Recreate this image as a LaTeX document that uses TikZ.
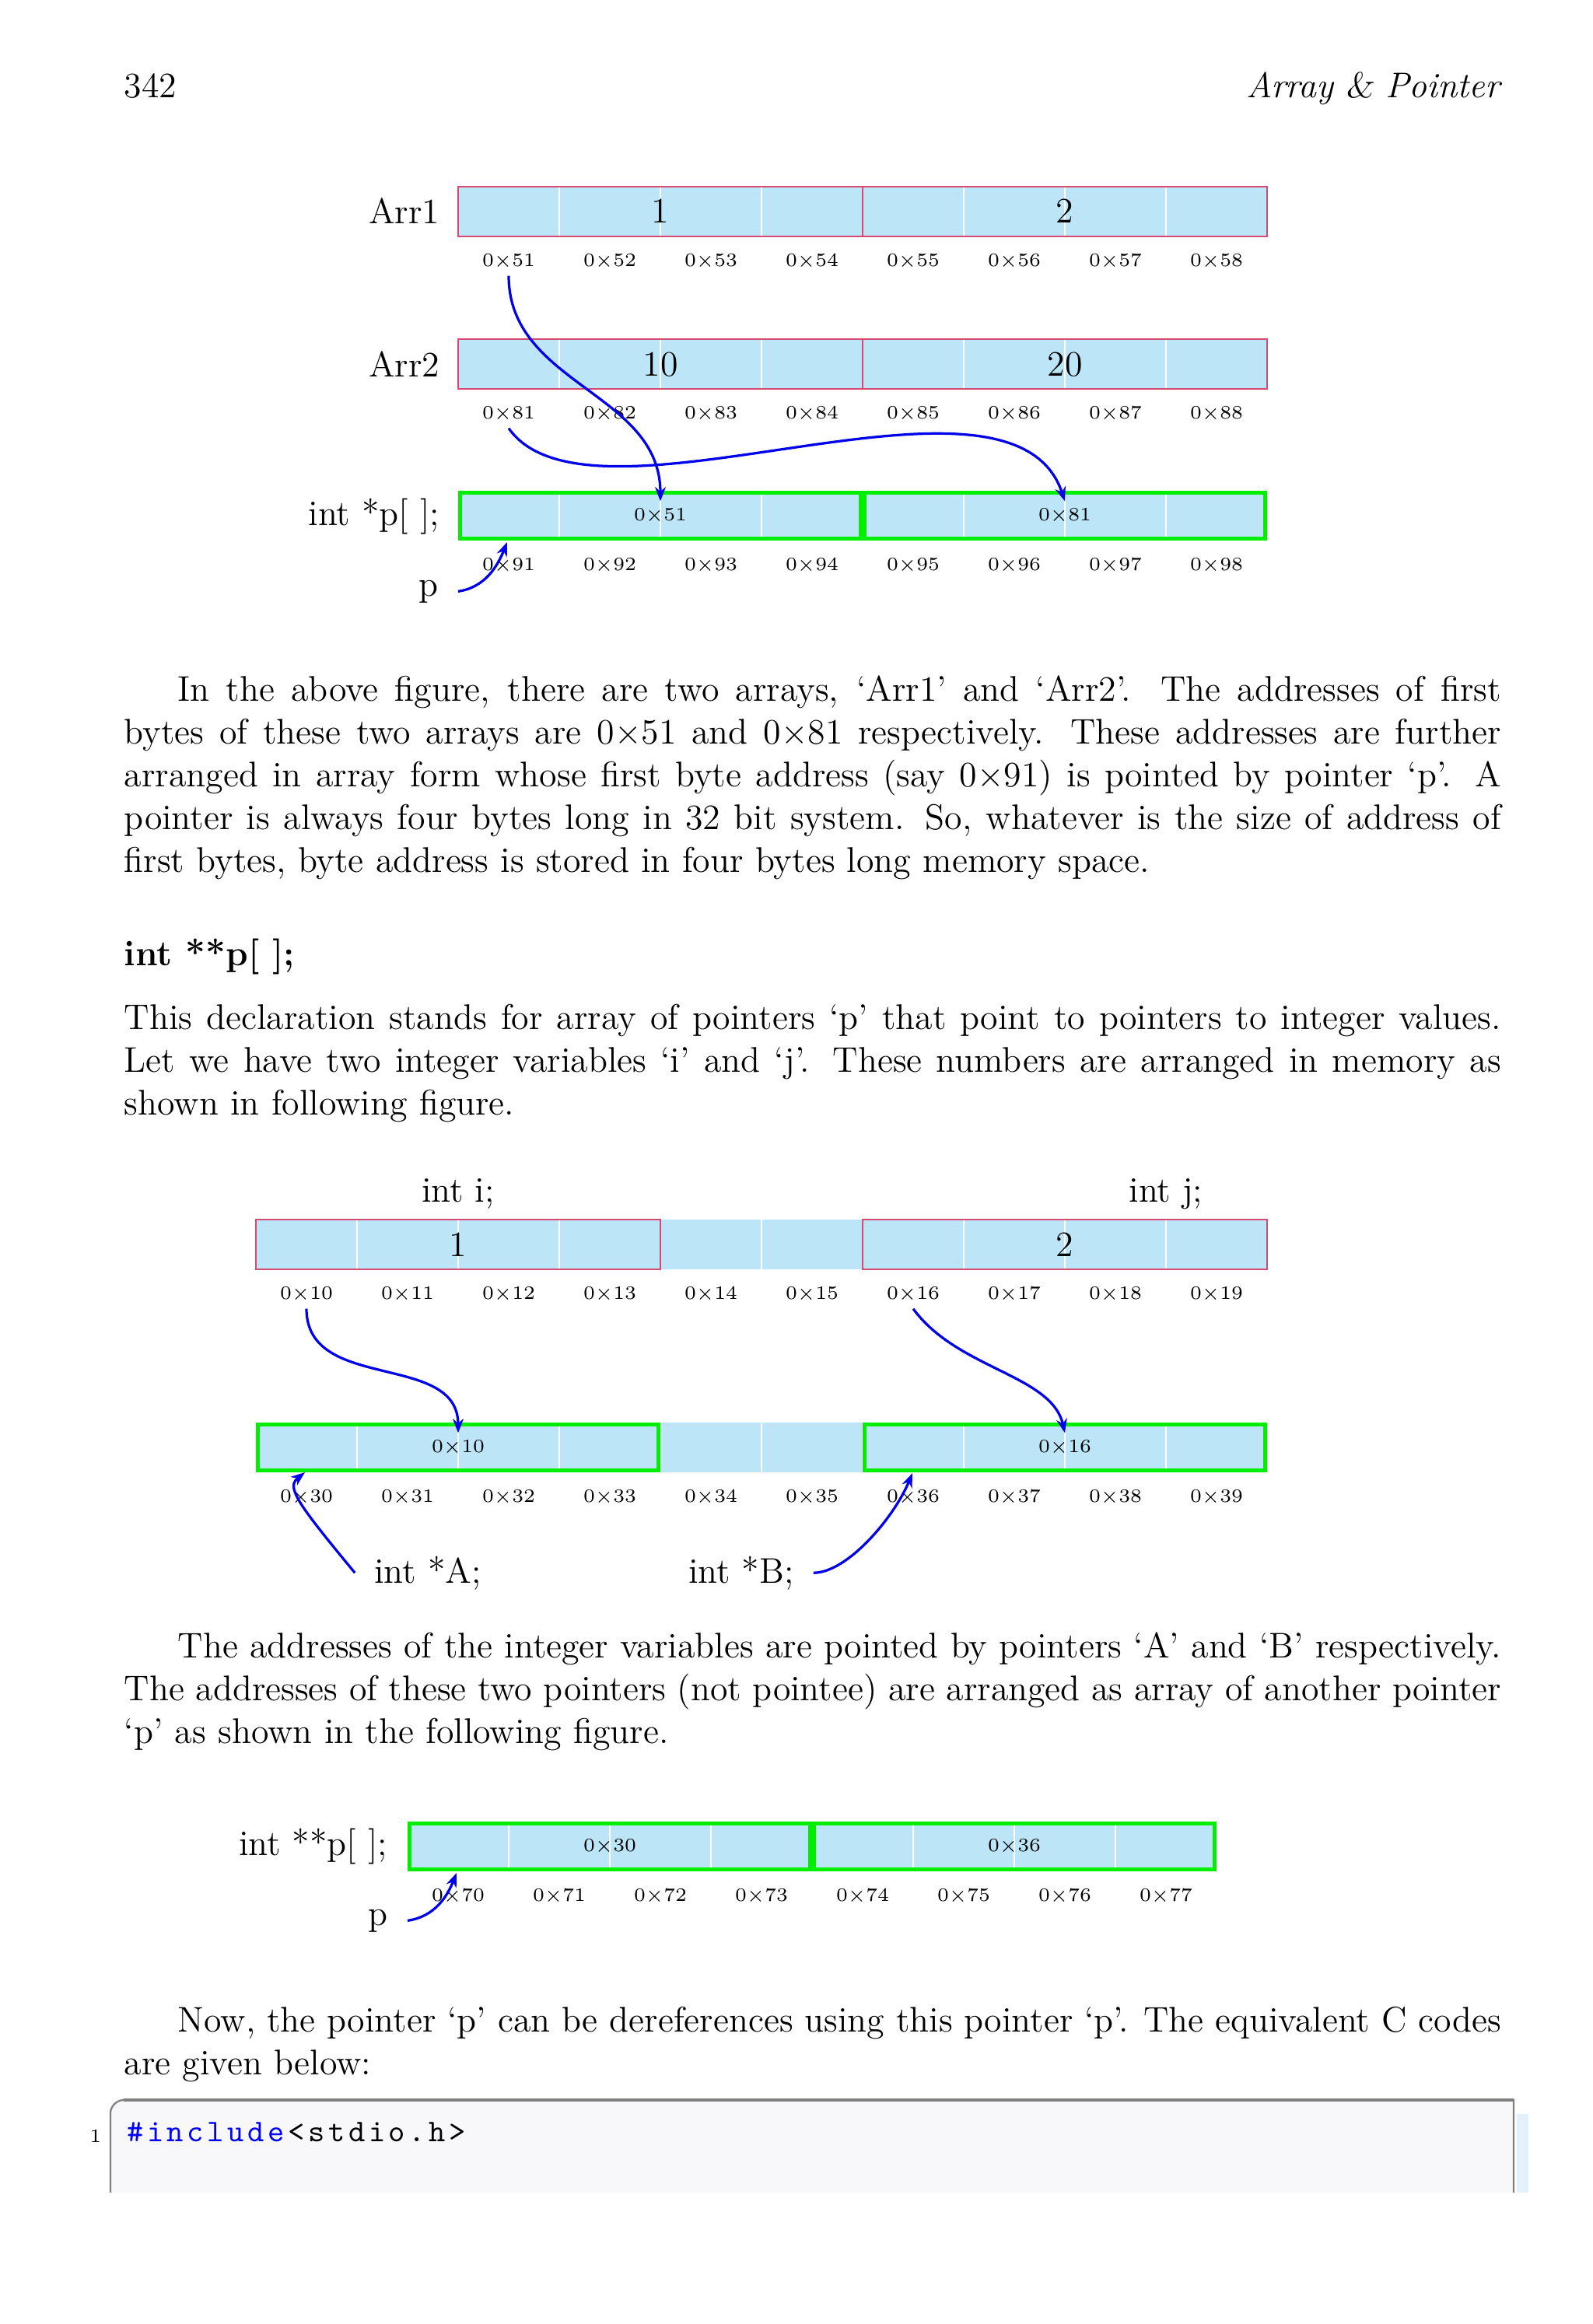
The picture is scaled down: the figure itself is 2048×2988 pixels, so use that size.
\documentclass[tikz,border=0pt]{standalone}
\usepackage{fontspec}
\usetikzlibrary{arrows.meta}
\definecolor{cellblue}{RGB}{188,229,248}
\definecolor{grpred}{RGB}{214,72,112}
\definecolor{grpgreen}{RGB}{0,238,0}
\definecolor{arrblue}{RGB}{0,0,235}
\definecolor{codebg}{RGB}{248,248,250}
\definecolor{codeframe}{RGB}{128,128,128}
\definecolor{stripblue}{RGB}{226,241,251}
\definecolor{kwblue}{RGB}{0,0,255}
\newcommand\bodysize{\fontsize{11.33}{13.6}\selectfont}
\newcommand\addrsize{\fontsize{6}{7}\selectfont}
\newcommand\jline[1]{\makebox[437.2pt][s]{\spaceskip=0pt\xspaceskip=0pt #1}}
\newcommand\cc[1]{\makebox[6.4pt]{#1}}
\newcommand\memrow[3]{%
  \fill[cellblue] (#1,#2) rectangle ++({130*#3},64);
  \pgfmathtruncatemacro\lastk{#3-1}%
  \foreach \k in {1,...,\lastk}{\draw[cellsep] ({#1+130*\k},#2) -- ++(0,64);}%
}
\tikzset{
  txt/.style={inner sep=0pt, font=\bodysize},
  para/.style={txt, anchor=base west, align=left, text width=437.2pt},
  cellsep/.style={draw=white, line width=0.7pt},
  redbox/.style={draw=grpred, line width=0.4pt},
  greenbox/.style={draw=grpgreen, line width=1.2pt},
  addrlbl/.style={font=\addrsize, inner sep=2pt},
  cellval/.style={txt, anchor=base},
  smallval/.style={font=\addrsize, inner sep=2pt},
  lbl/.style={font=\bodysize, inner xsep=6pt, inner ysep=0pt},
  ptrarrow/.style={draw=arrblue, line width=0.8pt, -{Stealth[length=4.5pt,width=3.4pt]}},
}
\begin{document}
\begin{tikzpicture}[x=0.247pt,y=-0.247pt]
\useasboundingbox (0,0) rectangle (2048,2988);
\fill[white] (0,0) rectangle (2048,2988);

% running head
\node[txt, anchor=base west] (pgno) at (159,126) {342};
\node[txt, anchor=base east] (runhead) at (1929,126) {\itshape Array \textsl{\&} Pointer};

% ---------- Figure 1 ----------
\memrow{589}{240}{8}
\memrow{589}{436}{8}
\memrow{589}{631}{8}
\draw[redbox] (589,240) rectangle ++(520,64);
\draw[redbox] (1109,240) rectangle ++(520,64);
\draw[redbox] (589,436) rectangle ++(520,64);
\draw[redbox] (1109,436) rectangle ++(520,64);
\draw[greenbox] (591.5,633.5) rectangle ++(515,59);
\draw[greenbox] (1111.5,633.5) rectangle ++(515,59);

\node[txt, anchor=base east] (lArr1) at (566,288) {Arr1};
\node[txt, anchor=base east] (lArr2) at (566,484) {Arr2};
\node[txt, anchor=base east] (lptr1) at (566,675) {int *p[ ];};
\node[lbl, anchor=base east] (lp1) at (589,766) {p};

\node[cellval] (v1) at (849,287) {1};
\node[cellval] (v2) at (1369,287) {2};
\node[cellval] (v10v) at (849,483) {10};
\node[cellval] (v20v) at (1369,483) {20};
\node[smallval] (v51) at (849,663) {0$\times$51};
\node[smallval] (v81) at (1369,663) {0$\times$81};

\foreach \i in {1,...,8}{\node[addrlbl] (a5\i) at ({654+130*(\i-1)},336) {0$\times$5\i};}
\foreach \i in {1,...,8}{\node[addrlbl] (a8\i) at ({654+130*(\i-1)},532) {0$\times$8\i};}
\foreach \i in {1,...,8}{\node[addrlbl] (a9\i) at ({654+130*(\i-1)},727) {0$\times$9\i};}

\coordinate (t91) at (652,697);
\draw[ptrarrow] (a51.south) .. controls +(0,140) and +(0,-140) .. (v51.north);
\draw[ptrarrow] (a81.south) .. controls +(106,151) and +(-69,-208) .. (v81.north);
\draw[ptrarrow] (lp1.east) .. controls +(35,-5) and +(-12,30) .. (t91);

% ---------- paragraph 1 ----------
\node[para] (par1) at (159,901) {%
\jline{\hspace*{17pt}In the above figure, there are two arrays, `Arr1' and `Arr2'. The addresses of first}\\
\jline{bytes of these two arrays are 0$\times$51 and 0$\times$81 respectively. These addresses are further}\\
\jline{arranged in array form whose first byte address (say 0$\times$91) is pointed by pointer `p'. A}\\
\jline{pointer is always four bytes long in 32 bit system. So, whatever is the size of address of}\\
first bytes, byte address is stored in four bytes long memory space.};

\node[txt, anchor=base west] (head) at (159,1241) {\bfseries int **p[ ];};

\node[para] (par2) at (159,1323) {%
\jline{This declaration stands for array of pointers `p' that point to pointers to integer values.}\\
\jline{Let we have two integer variables `i' and `j'. These numbers are arranged in memory as}\\
shown in following figure.};

% ---------- Figure 2 ----------
\memrow{329}{1568}{10}
\memrow{329}{1829}{10}
\draw[redbox] (329,1568) rectangle ++(520,64);
\draw[redbox] (1109,1568) rectangle ++(520,64);
\draw[greenbox] (331.5,1831.5) rectangle ++(515,59);
\draw[greenbox] (1111.5,1831.5) rectangle ++(515,59);

\node[txt, anchor=base] (lI) at (589,1545) {int i;};
\node[txt, anchor=base] (lJ) at (1499,1545) {int j;};
\node[cellval] (vi) at (589,1615) {1};
\node[cellval] (vj) at (1369,1615) {2};
\node[smallval] (v10) at (589,1861) {0$\times$10};
\node[smallval] (v16) at (1369,1861) {0$\times$16};

\foreach \i in {0,...,9}{\node[addrlbl] (a1\i) at ({394+130*\i},1664) {0$\times$1\i};}
\foreach \i in {0,...,9}{\node[addrlbl] (a3\i) at ({394+130*\i},1925) {0$\times$3\i};}

\node[lbl, anchor=base] (lA) at (550,2035) {int *A;};
\node[lbl, anchor=base] (lB) at (953,2035) {int *B;};
\coordinate (tA) at (392,1893);
\coordinate (tB) at (1173,1894);

\draw[ptrarrow] (a10.south) .. controls +(0,108) and +(0,-105) .. (v10.north);
\draw[ptrarrow] (a16.south) .. controls +(57,78) and +(-17,-75) .. (v16.north);
\draw[ptrarrow] (lA.west) .. controls (380,1930) and (368,1912) .. (tA);
\draw[ptrarrow] (lB.east) .. controls (1090,2022) and (1150,1950) .. (tB);

% ---------- paragraph 3 ----------
\node[para] (par3) at (159,2131) {%
\jline{\hspace*{17pt}The addresses of the integer variables are pointed by pointers `A' and `B' respectively.}\\
\jline{The addresses of these two pointers (not pointee) are arranged as array of another pointer}\\
`p' as shown in the following figure.};

% ---------- Figure 3 ----------
\memrow{524}{2342}{8}
\draw[greenbox] (526.5,2344.5) rectangle ++(515,59);
\draw[greenbox] (1046.5,2344.5) rectangle ++(515,59);
\node[smallval] (v30) at (784,2374) {0$\times$30};
\node[smallval] (v36) at (1304,2374) {0$\times$36};
\foreach \i in {0,...,7}{\node[addrlbl] (a7\i) at ({589+130*\i},2438) {0$\times$7\i};}
\node[txt, anchor=base east] (lptr2) at (499,2385) {int **p[ ];};
\node[lbl, anchor=base east] (lp3) at (524,2475) {p};
\coordinate (t70) at (587,2408);
\draw[ptrarrow] (lp3.east) .. controls +(35,-5) and +(-12,30) .. (t70);

% ---------- paragraph 4 ----------
\node[para] (par4) at (159,2612) {%
\jline{\hspace*{17pt}Now, the pointer `p' can be dereferences using this pointer `p'. The equivalent C codes}\\
are given below:};

% ---------- code box ----------
\fill[stripblue] (1950,2718) rectangle (1965,2819);
\fill[codebg] (142,2819) -- (142,2717) .. controls (142,2708) and (150,2700) .. (159,2700) -- (1946,2700) -- (1946,2819) -- cycle;
\draw[codeframe, line width=0.55pt] (142,2819) -- (142,2717) .. controls (142,2708) and (150,2700) .. (159,2700) -- (1946,2700) -- (1946,2819);
\draw[codeframe, line width=0.85pt] (159,2700) -- (1946,2700);
\node[anchor=base east, inner sep=0pt, font=\addrsize] (ln1) at (131,2754) {1};
\node[anchor=base west, inner sep=0pt, font=\fontsize{10}{12}\selectfont\ttfamily] (code1) at (160,2753)
  {{\color{kwblue}\cc{\#}\cc{i}\cc{n}\cc{c}\cc{l}\cc{u}\cc{d}\cc{e}}\cc{<}\cc{s}\cc{t}\cc{d}\cc{i}\cc{o}\cc{.}\cc{h}\cc{>}};
\end{tikzpicture}
\end{document}
